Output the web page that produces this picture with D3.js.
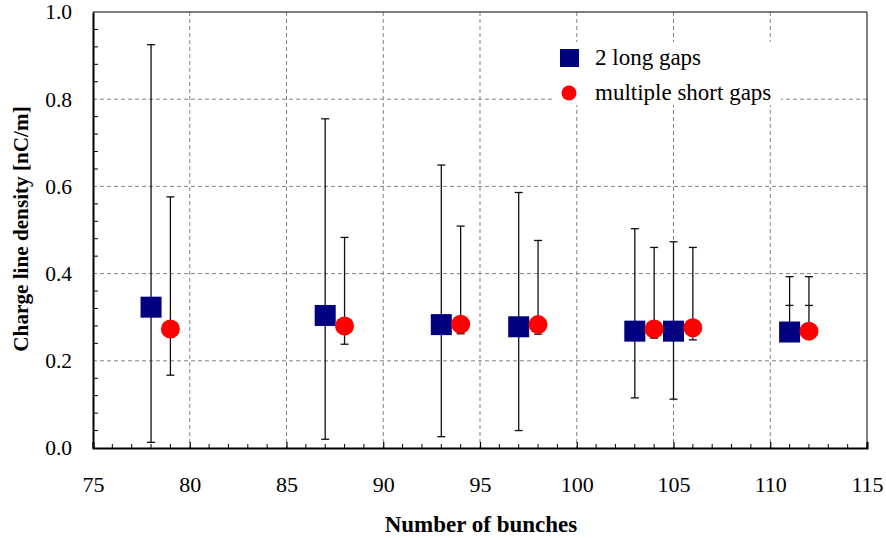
<!DOCTYPE html>
<html>
<head>
<meta charset="utf-8">
<script src="https://cdn.jsdelivr.net/npm/d3@7"></script>
<style>
  body { margin: 0; background: #fff; }
</style>
</head>
<body>
<svg id="chart" width="886" height="538"></svg>
<script>
// data
const longX = [78, 87, 93, 97, 103, 105, 111]
const longY = [0.323, 0.304, 0.283, 0.278, 0.268, 0.268, 0.266]
const longLo = [0.013, 0.020, 0.026, 0.040, 0.115, 0.112, 0.327]
const longHi = [0.925, 0.755, 0.649, 0.586, 0.503, 0.473, 0.393]

const shortX = [79, 88, 94, 98, 104, 106, 112]
const shortY = [0.273, 0.280, 0.284, 0.283, 0.273, 0.276, 0.268]
const shortLo = [0.167, 0.238, 0.262, 0.261, 0.252, 0.248, 0.327]
const shortHi = [0.576, 0.483, 0.509, 0.476, 0.460, 0.460, 0.393]

const xTicks = [75, 80, 85, 90, 95, 100, 105, 110, 115]
const yTicks = [0.0, 0.2, 0.4, 0.6, 0.8, 1.0]
const seriesNames = ['2 long gaps', 'multiple short gaps']

const plotL = 93, plotR = 867, plotT = 12, plotB = 448
const serif = 'Liberation Serif'

const svg = d3.select('#chart')
const x = d3.scaleLinear().domain([75, 115]).range([plotL, plotR])
const y = d3.scaleLinear().domain([0, 1]).range([plotB, plotT])

// grid
const grid = svg.append('g').attr('stroke', '#808080').attr('stroke-width', 1).attr('stroke-dasharray', '4,3')
grid.selectAll('.gx').data(xTicks.slice(1, -1)).join('line')
    .attr('x1', d => x(d)).attr('x2', d => x(d)).attr('y1', plotT).attr('y2', plotB)
grid.selectAll('.gy').data(yTicks.slice(1, -1)).join('line')
    .attr('y1', d => y(d)).attr('y2', d => y(d)).attr('x1', plotL).attr('x2', plotR)

// frame top/right
svg.append('line').attr('x1', plotL).attr('x2', plotR).attr('y1', plotT).attr('y2', plotT).attr('stroke', '#555').attr('stroke-width', 1.5)
svg.append('line').attr('x1', plotR).attr('x2', plotR).attr('y1', plotT).attr('y2', plotB).attr('stroke', '#555').attr('stroke-width', 1.5)

// axes
const xAxis = d3.axisBottom(x).tickValues(xTicks).tickSize(-6)
const gx = svg.append('g').attr('transform', `translate(0,${plotB})`).call(xAxis)
gx.selectAll('.tick text').attr('font-size', 22).attr('font-family', serif).attr('y', 44).attr('dy', 0)
gx.append('g').selectAll('line').data(d3.range(75, 116, 1).filter(d => d % 5 != 0)).join('line')
    .attr('x1', d => x(d)).attr('x2', d => x(d)).attr('y1', 0).attr('y2', -4).attr('stroke', '#000')

const yAxis = d3.axisLeft(y).tickValues(yTicks).tickFormat(d3.format('.1f')).tickSize(0).tickPadding(21)
const gy = svg.append('g').attr('transform', `translate(${plotL},0)`).call(yAxis)
gy.selectAll('.tick text').attr('font-size', 21.5).attr('font-family', serif)
gy.append('g').selectAll('line').data(d3.range(0, 1.001, 0.04).filter((d, i) => i % 5 != 0)).join('line')
    .attr('y1', d => y(d)).attr('y2', d => y(d)).attr('x1', 0).attr('x2', 5).attr('stroke', '#000')

svg.selectAll('.domain').attr('stroke', '#000').attr('stroke-width', 2)
gx.selectAll('.tick line').attr('stroke-width', 1.2)

// error bars
function errorBars(xs, ys, lo, hi) {
    const g = svg.append('g').attr('stroke', '#111').attr('stroke-width', 1.3)
    xs.forEach((xv, i) => {
        const vals = [ys[i], lo[i], hi[i]]
        g.append('line').attr('x1', x(xv)).attr('x2', x(xv))
            .attr('y1', y(d3.min(vals))).attr('y2', y(d3.max(vals)))
        ;[lo[i], hi[i]].forEach(v => {
            g.append('line').attr('x1', x(xv) - 4).attr('x2', x(xv) + 4)
                .attr('y1', y(v)).attr('y2', y(v))
        })
    })
}
errorBars(longX, longY, longLo, longHi)
errorBars(shortX, shortY, shortLo, shortHi)

// markers
const sq = 21
svg.append('g').selectAll('rect').data(longX).join('rect')
    .attr('x', d => x(d) - sq / 2).attr('y', (d, i) => y(longY[i]) - sq / 2)
    .attr('width', sq).attr('height', sq).attr('fill', '#000080')
svg.append('g').selectAll('circle').data(shortX).join('circle')
    .attr('cx', d => x(d)).attr('cy', (d, i) => y(shortY[i])).attr('r', 9.5).attr('fill', '#ff0000')

// legend
const lg = svg.append('g')
lg.append('rect').attr('x', 553).attr('y', 42).attr('width', 228).attr('height', 63).attr('fill', '#fff')
lg.append('rect').attr('x', 560).attr('y', 49).attr('width', 19).attr('height', 18).attr('fill', '#000080')
lg.append('circle').attr('cx', 569).attr('cy', 93).attr('r', 7.5).attr('fill', '#ff0000')
lg.selectAll('text').data(seriesNames).join('text')
    .attr('x', 595).attr('y', (d, i) => 65 + i * 35)
    .attr('font-family', serif).attr('font-size', 23).text(d => d)

// axis titles
svg.append('text').attr('x', 481).attr('y', 532).attr('text-anchor', 'middle')
    .attr('font-family', serif).attr('font-size', 23).attr('font-weight', 'bold').text('Number of bunches')
svg.append('text').attr('transform', 'translate(28,229) rotate(-90)').attr('text-anchor', 'middle')
    .attr('font-family', serif).attr('font-size', 21.2).attr('font-weight', 'bold').text('Charge line density [nC/m]')
</script>
</body>
</html>
